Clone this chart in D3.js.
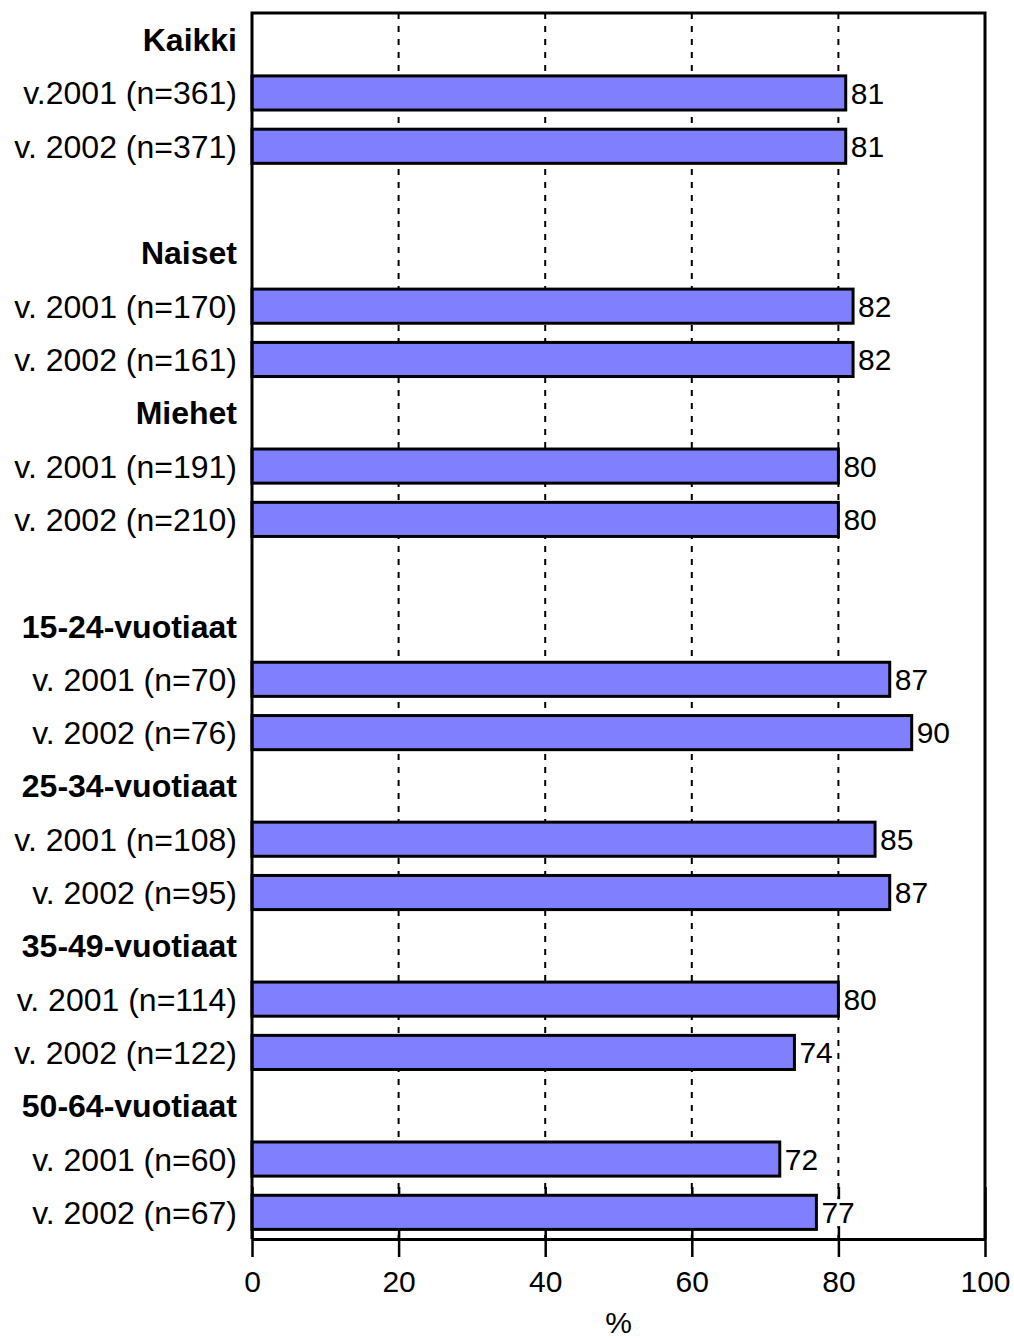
<!doctype html>
<html lang='fi'>
<head>
<meta charset='UTF-8'>
<title>Kaikki / Naiset / Miehet</title>
<script src='https://cdn.jsdelivr.net/npm/d3@7/dist/d3.min.js'></script>
<style>
    body { margin: 0; background: #fff; }
    text { font-family: Arial, 'Liberation Sans', sans-serif; fill: #000; }
</style>
</head>
<body>
<div id='chart'></div>
<script>
    // rivit ylhäältä alas, tyhjä merkkijono = välirivi
    const rowLabels = ['Kaikki', 'v.2001 (n=361)', 'v. 2002 (n=371)', '',
        'Naiset', 'v. 2001 (n=170)', 'v. 2002 (n=161)',
        'Miehet', 'v. 2001 (n=191)', 'v. 2002 (n=210)', '',
        '15-24-vuotiaat', 'v. 2001 (n=70)', 'v. 2002 (n=76)',
        '25-34-vuotiaat', 'v. 2001 (n=108)', 'v. 2002 (n=95)',
        '35-49-vuotiaat', 'v. 2001 (n=114)', 'v. 2002 (n=122)',
        '50-64-vuotiaat', 'v. 2001 (n=60)', 'v. 2002 (n=67)'];
    const headerRows = ['Kaikki', 'Naiset', 'Miehet', '15-24-vuotiaat', '25-34-vuotiaat', '35-49-vuotiaat', '50-64-vuotiaat'];
    const values = [null, 81, 81, null,
        null, 82, 82,
        null, 80, 80, null,
        null, 87, 90,
        null, 85, 87,
        null, 80, 74,
        null, 72, 77];
    const xTicks = [0, 20, 40, 60, 80, 100];
    const gridTicks = [20, 40, 60, 80];
    const axisTitle = '%';

    const W = 1014, H = 1339;
    const M = { left: 252, top: 13, right: 29, bottom: 100 };

    const svg = d3.select('#chart').append('svg').attr('width', W).attr('height', H);

    const x = d3.scaleLinear().domain([0, 100]).range([M.left, W - M.right]);
    const y = d3.scaleBand().domain(d3.range(rowLabels.length)).range([M.top, H - M.bottom]);
    const barH = y.bandwidth() * 0.64;

    // katkoviivat
    svg.append('g').selectAll('line').data(gridTicks).join('line')
        .attr('x1', d => x(d)).attr('x2', d => x(d))
        .attr('y1', M.top).attr('y2', H - M.bottom)
        .attr('stroke', '#000').attr('stroke-width', 2).attr('stroke-dasharray', '6,7');

    // x-akseli
    const xAxis = svg.append('g')
        .attr('transform', 'translate(0,' + (H - M.bottom) + ')')
        .call(d3.axisBottom(x).tickValues(xTicks).tickSize(18).tickSizeOuter(0).tickPadding(14));
    xAxis.select('.domain').attr('stroke-width', 3);
    xAxis.selectAll('.tick line').attr('stroke-width', 2.5).attr('y1', -52);
    xAxis.selectAll('.tick text').attr('font-size', 30).attr('font-family', 'Arial, Liberation Sans, sans-serif');

    // palkit
    const rows = values.map((v, i) => ({ i: i, v: v })).filter(d => d.v != null);
    svg.append('g').selectAll('rect').data(rows).join('rect')
        .attr('x', x(0))
        .attr('y', d => y(d.i) + (y.bandwidth() - barH) / 2)
        .attr('width', d => x(d.v) - x(0))
        .attr('height', barH)
        .attr('fill', '#8080ff')
        .attr('stroke', '#000')
        .attr('stroke-width', 3);

    // arvot valkoisella taustalla
    const valG = svg.append('g').selectAll('g').data(rows).join('g');
    const valBg = valG.append('rect').attr('fill', '#fff');
    const valText = valG.append('text')
        .attr('x', d => x(d.v) + 5)
        .attr('y', d => y(d.i) + y.bandwidth() / 2)
        .attr('dy', '0.36em')
        .attr('font-size', 30)
        .text(d => d.v);
    valText.each(function (d, i) {
        const b = this.getBBox();
        d3.select(valBg.nodes()[i])
            .attr('x', b.x).attr('y', b.y + 3)
            .attr('width', b.width + 1).attr('height', b.height - 6);
    });

    // kehys
    svg.append('path')
        .attr('d', 'M' + x(0) + ',' + (H - M.bottom) + 'V' + M.top + 'H' + x(100) + 'V' + (H - M.bottom))
        .attr('fill', 'none').attr('stroke', '#000').attr('stroke-width', 3);

    // rivien otsikot
    svg.append('g').selectAll('text').data(rowLabels).join('text')
        .attr('x', M.left - 15)
        .attr('y', (d, i) => y(i) + y.bandwidth() / 2)
        .attr('dy', '0.36em')
        .attr('text-anchor', 'end')
        .attr('font-size', 32)
        .attr('font-weight', d => headerRows.includes(d) ? 'bold' : 'normal')
        .text(d => d);

    svg.append('text')
        .attr('x', (x(0) + x(100)) / 2)
        .attr('y', 1333)
        .attr('text-anchor', 'middle')
        .attr('font-size', 30)
        .text(axisTitle);
</script>
</body>
</html>
